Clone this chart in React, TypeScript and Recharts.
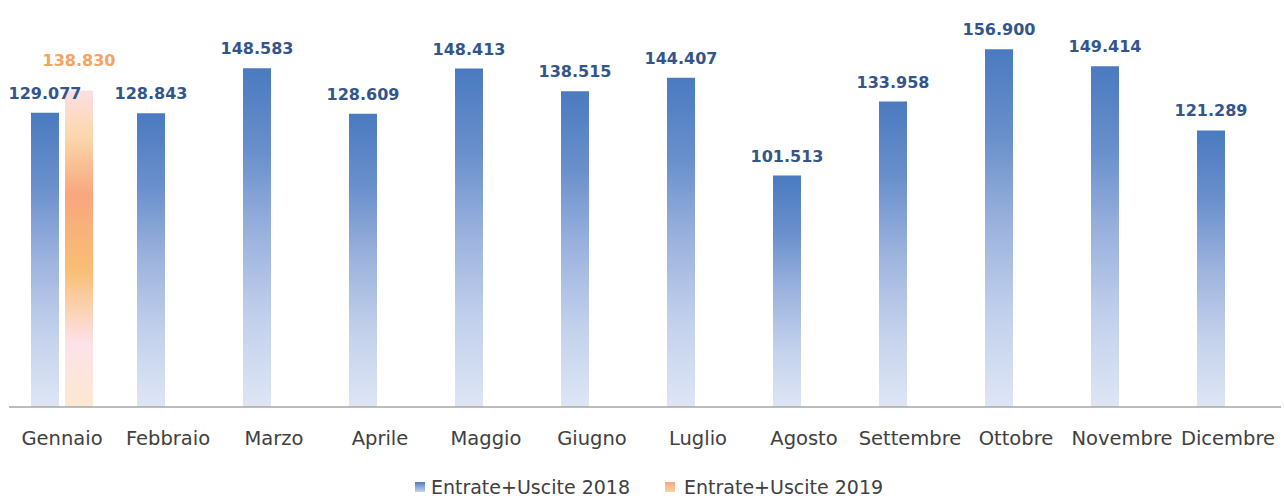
import { BarChart, Bar, XAxis, YAxis, Legend, LabelList } from "recharts";

const MONTHS = [
  "Gennaio",
  "Febbraio",
  "Marzo",
  "Aprile",
  "Maggio",
  "Giugno",
  "Luglio",
  "Agosto",
  "Settembre",
  "Ottobre",
  "Novembre",
  "Dicembre",
];

const TOTALS_2018 = [
  129077, 128843, 148583, 128609, 148413, 138515, 144407, 101513, 133958, 156900, 149414, 121289,
];

// only January is in for 2019
const TOTALS_2019 = [138830, null, null, null, null, null, null, null, null, null, null, null];

const SERIES_NAMES = ["Entrate+Uscite 2018", "Entrate+Uscite 2019"];

const LABEL_BLUE = "#34558b";
const LABEL_ORANGE = "#f5a35e";
const TEXT = "#404040";
const FONT = "'DejaVu Sans', sans-serif";

const data = MONTHS.map((month, i) => ({
  month,
  y2018: TOTALS_2018[i],
  y2019: TOTALS_2019[i],
}));

const fmt = (v: unknown) => {
  if (v == null || v === "") return "";
  return Number(v).toLocaleString("it-IT");
};

function LegendContent() {
  const items = [
    { name: SERIES_NAMES[0], swatch: "linear-gradient(#4f7dc0, #c8d5ee)" },
    { name: SERIES_NAMES[1], swatch: "linear-gradient(#f9a87c, #fbd3a6)" },
  ];
  return (
    <div
      style={{
        display: "flex",
        justifyContent: "center",
        alignItems: "center",
        boxSizing: "border-box",
        height: 41,
        paddingTop: 18,
        paddingLeft: 8,
        fontFamily: FONT,
        fontSize: 19,
        color: TEXT,
      }}
    >
      {items.map((it, i) => (
        <div key={it.name} style={{ display: "flex", alignItems: "center", marginLeft: i ? 35 : 0 }}>
          <span
            style={{
              display: "inline-block",
              width: 10,
              height: 10,
              background: it.swatch,
              marginRight: i ? 9 : 6,
            }}
          />
          <span>{it.name}</span>
        </div>
      ))}
    </div>
  );
}

export default function App() {
  return (
    <div style={{ position: "absolute", left: 0, top: 0, background: "#fff" }}>
      <BarChart
        width={1284}
        height={498}
        data={data}
        margin={{ top: 8, right: 3, left: 9, bottom: 0 }}
        barSize={28}
        barGap={6}
      >
        <defs>
          <linearGradient id="blueGrad" x1="0" y1="0" x2="0" y2="1">
            <stop offset="0%" stopColor="#4a7ac0" />
            <stop offset="25%" stopColor="#6a90cc" />
            <stop offset="50%" stopColor="#9db3de" />
            <stop offset="75%" stopColor="#c3d1ec" />
            <stop offset="100%" stopColor="#dee6f5" />
          </linearGradient>
          <linearGradient id="orangeGrad" x1="0" y1="0" x2="0" y2="1">
            <stop offset="0%" stopColor="#fcdfe2" />
            <stop offset="14%" stopColor="#fbd8ae" />
            <stop offset="33%" stopColor="#f9a67d" />
            <stop offset="57%" stopColor="#f8bf74" />
            <stop offset="80%" stopColor="#fde2ea" />
            <stop offset="100%" stopColor="#fce8d0" />
          </linearGradient>
        </defs>
        <XAxis
          dataKey="month"
          height={50}
          tickLine={false}
          tickMargin={18}
          axisLine={{ stroke: "#a6a6a6", strokeWidth: 1.5 }}
          tick={{ fill: TEXT, fontSize: 19.5, fontFamily: FONT }}
          interval={0}
        />
        <YAxis hide domain={[0, 175000]} />
        <Legend verticalAlign="bottom" content={() => <LegendContent />} />
        <Bar dataKey="y2018" name={SERIES_NAMES[0]} fill="url(#blueGrad)" isAnimationActive={false}>
          <LabelList
            dataKey="y2018"
            position="top"
            offset={14}
            formatter={fmt}
            style={{ fill: LABEL_BLUE, fontSize: 16, fontWeight: "bold", fontFamily: FONT }}
          />
        </Bar>
        <Bar dataKey="y2019" name={SERIES_NAMES[1]} fill="url(#orangeGrad)" isAnimationActive={false}>
          <LabelList
            dataKey="y2019"
            position="top"
            offset={24}
            formatter={fmt}
            style={{ fill: LABEL_ORANGE, fontSize: 16, fontWeight: "bold", fontFamily: FONT }}
          />
        </Bar>
      </BarChart>
    </div>
  );
}
